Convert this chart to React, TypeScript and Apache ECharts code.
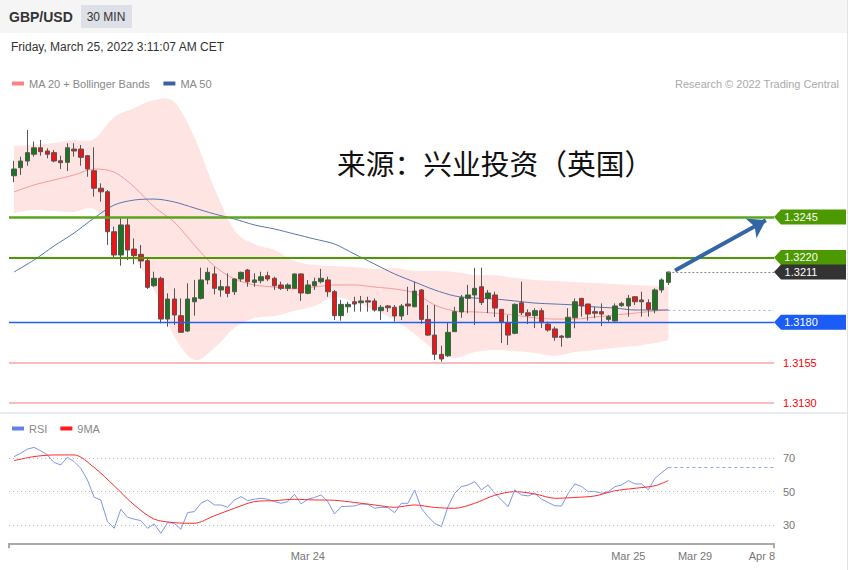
import React, { useEffect, useRef } from "react";
import * as echarts from "echarts";

// ---- data ----
// candles: [open, close, lowest, highest], one per 30-min bar (index 0 .. 98)
const candles: number[][] = [
  [1.32705, 1.32747, 1.32665, 1.32798], [1.32755, 1.32796, 1.3271, 1.32823], [1.32796, 1.32848, 1.32767, 1.32988],
  [1.32838, 1.32878, 1.32823, 1.32916], [1.32878, 1.32854, 1.32829, 1.32926], [1.32858, 1.32838, 1.32813, 1.32875],
  [1.32848, 1.32796, 1.32788, 1.32864], [1.32798, 1.32786, 1.32747, 1.32829], [1.32788, 1.32878, 1.32734, 1.32906],
  [1.3287, 1.32858, 1.32823, 1.32906], [1.3287, 1.32819, 1.32767, 1.32895], [1.32829, 1.32747, 1.32699, 1.32833],
  [1.32736, 1.32628, 1.32576, 1.32881], [1.32628, 1.32606, 1.32545, 1.32658], [1.32606, 1.32359, 1.32277, 1.32617],
  [1.32359, 1.32215, 1.32195, 1.3239], [1.32215, 1.32401, 1.32149, 1.32442], [1.32401, 1.32246, 1.32184, 1.32442],
  [1.32252, 1.32211, 1.32158, 1.32318], [1.32219, 1.32178, 1.32133, 1.32277], [1.3218, 1.32015, 1.32005, 1.32195],
  [1.32025, 1.32071, 1.32017, 1.32112], [1.32071, 1.31819, 1.31793, 1.32081], [1.31819, 1.31943, 1.31772, 1.31978],
  [1.31943, 1.31844, 1.31782, 1.32009], [1.3184, 1.31737, 1.31733, 1.31947], [1.31745, 1.31943, 1.31739, 1.3204],
  [1.31926, 1.31951, 1.3184, 1.32061], [1.31947, 1.32061, 1.3194, 1.32137], [1.32061, 1.32108, 1.32034, 1.32137],
  [1.32098, 1.32009, 1.31972, 1.32143], [1.31999, 1.32019, 1.31957, 1.32061], [1.32019, 1.31978, 1.31954, 1.32102],
  [1.31988, 1.32067, 1.31968, 1.32071], [1.32067, 1.32108, 1.3205, 1.32112], [1.32122, 1.3205, 1.32019, 1.32129],
  [1.32046, 1.32061, 1.32019, 1.32102], [1.32056, 1.32081, 1.3204, 1.32112], [1.32087, 1.32067, 1.32054, 1.32112],
  [1.32071, 1.32025, 1.31999, 1.32081], [1.3203, 1.32009, 1.31999, 1.3205], [1.32009, 1.3203, 1.31992, 1.3204],
  [1.32009, 1.32098, 1.32005, 1.32102], [1.32098, 1.3198, 1.31931, 1.32102], [1.31978, 1.3203, 1.31972, 1.32061],
  [1.32025, 1.3205, 1.31999, 1.32075], [1.3205, 1.32071, 1.3204, 1.32129], [1.32061, 1.31988, 1.31957, 1.32081],
  [1.31988, 1.3184, 1.31813, 1.31999], [1.3184, 1.3191, 1.31809, 1.31937], [1.31895, 1.3191, 1.31858, 1.31926],
  [1.31926, 1.31912, 1.31865, 1.31957], [1.3192, 1.31931, 1.31865, 1.31962], [1.31932, 1.31924, 1.31865, 1.31957],
  [1.31931, 1.31875, 1.31865, 1.31947], [1.31871, 1.31892, 1.31813, 1.31906], [1.319, 1.31889, 1.31863, 1.31906],
  [1.31892, 1.31838, 1.31803, 1.31906], [1.31838, 1.319, 1.31813, 1.31912], [1.31912, 1.319, 1.31844, 1.32019],
  [1.31895, 1.31992, 1.31892, 1.3205], [1.31999, 1.31817, 1.3179, 1.32005], [1.31817, 1.3172, 1.31714, 1.31906],
  [1.3172, 1.31601, 1.31566, 1.31906], [1.31601, 1.31572, 1.31555, 1.31654], [1.31592, 1.31737, 1.31584, 1.31795],
  [1.31741, 1.31865, 1.31739, 1.31895], [1.31863, 1.31951, 1.31827, 1.31968], [1.31947, 1.31968, 1.31855, 1.3203],
  [1.31968, 1.32009, 1.31782, 1.32135], [1.32019, 1.31921, 1.31906, 1.32137], [1.31947, 1.3198, 1.31856, 1.31999],
  [1.31968, 1.31887, 1.31832, 1.31988], [1.31879, 1.31803, 1.31671, 1.31881], [1.31797, 1.3172, 1.31659, 1.31844],
  [1.31731, 1.3191, 1.31725, 1.31916], [1.3192, 1.31858, 1.31844, 1.3205], [1.31858, 1.3184, 1.31788, 1.31879],
  [1.3184, 1.31871, 1.31764, 1.31886], [1.31871, 1.31797, 1.31764, 1.31886], [1.31788, 1.31751, 1.31741, 1.31803],
  [1.31758, 1.31706, 1.31685, 1.31772], [1.31714, 1.31706, 1.31648, 1.3172], [1.31706, 1.3183, 1.317, 1.31886],
  [1.31827, 1.31926, 1.31762, 1.31947], [1.31947, 1.319, 1.31834, 1.3195], [1.31912, 1.3185, 1.31809, 1.31914],
  [1.31865, 1.31855, 1.31824, 1.31895], [1.31865, 1.3185, 1.31776, 1.31916], [1.31817, 1.31834, 1.31803, 1.31844],
  [1.31807, 1.319, 1.31803, 1.31916], [1.31902, 1.31916, 1.31895, 1.31926], [1.319, 1.31947, 1.31834, 1.31968],
  [1.31957, 1.31926, 1.31906, 1.31962], [1.31937, 1.31926, 1.31834, 1.31988], [1.3192, 1.31879, 1.31834, 1.31941],
  [1.31875, 1.31999, 1.31855, 1.32009], [1.31999, 1.32061, 1.31982, 1.32071], [1.32046, 1.3211, 1.3203, 1.32112],
];

// bar indices at which the indicator lines were read
const lineIdx = [0, 3, 6, 9, 12, 15, 18, 21, 24, 27, 30, 33, 36, 39, 42, 45, 48, 51, 54, 57, 60, 63, 66, 69, 72, 75, 78, 81, 84, 87, 90, 93, 96, 98];
const bbUpper = [1.32889, 1.32895, 1.32908, 1.32926, 1.32932, 1.33068, 1.33124, 1.33173, 1.33161, 1.32945, 1.32629, 1.3237, 1.32283, 1.32246, 1.32178, 1.32153, 1.32147, 1.32141, 1.32129, 1.32135, 1.32117, 1.32117, 1.3211, 1.32091, 1.32091, 1.32073, 1.32061, 1.32054, 1.32048, 1.32042, 1.32036, 1.3203, 1.32023, 1.32017];
const bbLower = [1.32475, 1.32493, 1.32487, 1.32481, 1.325, 1.32363, 1.32196, 1.31999, 1.31714, 1.31566, 1.3164, 1.31764, 1.31826, 1.31838, 1.31869, 1.319, 1.31955, 1.31924, 1.31875, 1.31813, 1.31727, 1.31628, 1.31578, 1.31615, 1.31628, 1.31621, 1.31609, 1.31591, 1.31615, 1.31628, 1.3164, 1.31652, 1.31671, 1.3169];
const ma20 = [1.32605, 1.32648, 1.32679, 1.3271, 1.32747, 1.32728, 1.32636, 1.32512, 1.32419, 1.32277, 1.32147, 1.32067, 1.3203, 1.32017, 1.32005, 1.32017, 1.3203, 1.3203, 1.32017, 1.32005, 1.3198, 1.31906, 1.31869, 1.31863, 1.31856, 1.31844, 1.31826, 1.31819, 1.31819, 1.31832, 1.31844, 1.31856, 1.31869, 1.31875];
const ma50 = [1.3211, 1.32184, 1.32271, 1.32351, 1.32444, 1.32524, 1.32555, 1.32561, 1.32543, 1.32506, 1.32469, 1.32438, 1.32401, 1.32376, 1.32345, 1.32314, 1.32283, 1.32221, 1.32159, 1.32098, 1.32048, 1.31999, 1.31962, 1.31949, 1.31943, 1.31931, 1.31918, 1.31912, 1.31906, 1.31894, 1.31887, 1.31875, 1.31875, 1.31875];

const rsi = [
  71, 73, 75.5, 76.5, 74.5, 72, 67.5, 66, 70.6, 68,
  64, 57, 46.6, 45, 32, 28, 39.4, 34.6, 33.5, 32.6,
  28, 30.6, 25, 31.4, 31, 27.4, 37.4, 38, 43, 45,
  42, 42, 40.6, 45, 47, 44.6, 45.5, 46, 45.4, 44,
  43, 44, 48.4, 42.6, 45.4, 46.5, 48, 44, 36.6, 41,
  41.2, 41.4, 42.6, 42.4, 40, 40.6, 40.4, 37.4, 43, 43,
  51, 40, 35, 31, 29, 41, 49, 53, 54, 56,
  51, 54, 49, 45, 41, 51, 48, 47.4, 49, 45.5,
  43.5, 41.5, 41.4, 49, 54.6, 53, 50, 50, 49, 50,
  53, 54, 56.6, 54.6, 54.6, 51, 58, 61.4, 64.6,
];
const rsiMa9 = [68.6, 71, 72, 72, 64.5, 53.5, 42, 33.5, 31.4, 31, 35.5, 40, 44, 44.6, 45.4, 45, 44.8, 43.5, 42, 40.6, 42, 40.5, 40, 43, 47.8, 50, 48.6, 46, 46.5, 47.4, 50.5, 52, 53.5, 56.6];

const levelValues = [1.3245, 1.322, 1.318, 1.3155, 1.313];
const arrowFrom = [99, 1.3212];
const arrowTo = [112.6, 1.3243];
const rsiRefs = [30, 50, 70];
const xTickPos = [44, 92, 102, 112];
const xTickLabels = ["Mar 24", "Mar 25", "Mar 29", "Apr 8"];

const X_MIN = -0.749;
const X_MAX = 113.82;
const FONT = "Liberation Sans, Arial, sans-serif";

// smooth SVG path through pixel points (Catmull-Rom -> cubic Bezier)
function smoothPath(pts: number[][], moveFirst: boolean): string {
  let d = (moveFirst ? "M" : "L") + pts[0][0].toFixed(2) + "," + pts[0][1].toFixed(2);
  for (let i = 0; i < pts.length - 1; i++) {
    const p0 = pts[Math.max(i - 1, 0)];
    const p1 = pts[i];
    const p2 = pts[i + 1];
    const p3 = pts[Math.min(i + 2, pts.length - 1)];
    const c1x = p1[0] + (p2[0] - p0[0]) / 6;
    const c1y = p1[1] + (p2[1] - p0[1]) / 6;
    const c2x = p2[0] - (p3[0] - p1[0]) / 6;
    const c2y = p2[1] - (p3[1] - p1[1]) / 6;
    d += "C" + c1x.toFixed(2) + "," + c1y.toFixed(2) + " " + c2x.toFixed(2) + "," + c2y.toFixed(2) + " " + p2[0].toFixed(2) + "," + p2[1].toFixed(2);
  }
  return d;
}

export default function App() {
  const ref = useRef<HTMLDivElement>(null);

  useEffect(() => {
    if (!ref.current) return;
    const chart = echarts.init(ref.current, null, { renderer: "svg" });

    const lastIdx = candles.length - 1;
    const lastClose = candles[lastIdx][1];
    const ma50Last = ma50[ma50.length - 1];
    const rsiLast = rsi[rsi.length - 1];

    const tagLabel = (v: number) => v.toFixed(4);
    const hLine = (v: number, style: any, label?: any) => [
      { coord: [X_MIN, v], lineStyle: style, label: label || { show: false } },
      { coord: [X_MAX, v], lineStyle: style, label: label || { show: false } },
    ];
    const redLabel = (v: number) => ({
      show: true,
      position: "end",
      formatter: tagLabel(v),
      color: "#ff0000",
      fontSize: 11,
      distance: 9,
    });

    const option: any = {
      animation: false,
      textStyle: { fontFamily: FONT },
      grid: [
        { left: 9, top: 95.7, width: 765, height: 315.4 },
        { left: 9, top: 441.6, width: 765, height: 101.7 },
      ],
      xAxis: [
        { type: "value", gridIndex: 0, min: X_MIN, max: X_MAX, show: false },
        {
          type: "value",
          gridIndex: 1,
          min: X_MIN,
          max: X_MAX,
          axisLine: { show: true, lineStyle: { color: "#aaaaaa", width: 2 } },
          axisTick: { show: true, customValues: [X_MIN, X_MAX], length: 5, lineStyle: { color: "#aaaaaa", width: 2 } },
          axisLabel: {
            customValues: xTickPos,
            formatter: (v: number) => {
              const k = xTickPos.indexOf(v);
              return k >= 0 ? xTickLabels[k] : "";
            },
            color: "#777",
            fontSize: 11,
            margin: 7,
          },
          splitLine: { show: false },
        },
      ],
      yAxis: [
        { type: "value", gridIndex: 0, min: 1.3125, max: 1.332, show: false },
        {
          type: "value",
          gridIndex: 1,
          min: 19,
          max: 80,
          position: "right",
          axisLine: { show: false },
          axisTick: { show: false },
          splitLine: { show: false },
          axisLabel: { customValues: rsiRefs, color: "#777", fontSize: 11, margin: 9 },
        },
      ],
      legend: [
        {
          data: ["MA 20 + Bollinger Bands", "MA 50"],
          left: 12,
          top: 78,
          padding: 0,
          icon: "rect",
          itemWidth: 12,
          itemHeight: 4,
          itemGap: 13,
          selectedMode: false,
          textStyle: { color: "#888", fontSize: 11 },
        },
        {
          data: ["RSI", "9MA"],
          left: 12,
          top: 423,
          padding: 0,
          icon: "rect",
          itemWidth: 12,
          itemHeight: 4,
          itemGap: 13,
          selectedMode: false,
          textStyle: { color: "#888", fontSize: 11 },
        },
      ],
      series: [
        {
          name: "bollinger",
          type: "custom",
          xAxisIndex: 0,
          yAxisIndex: 0,
          data: [0],
          silent: true,
          clip: false,
          z: 1,
          renderItem: (_params: any, api: any) => {
            const up = lineIdx.map((x, k) => api.coord([x, bbUpper[k]]));
            const lo = lineIdx.map((x, k) => api.coord([x, bbLower[k]])).reverse();
            const d = smoothPath(up, true) + smoothPath(lo, false) + "Z";
            return {
              type: "path",
              shape: { pathData: d },
              style: { fill: "#ffe4e4" },
            };
          },
        },
        {
          name: "MA 20 + Bollinger Bands",
          type: "line",
          xAxisIndex: 0,
          yAxisIndex: 0,
          data: lineIdx.map((x, k) => [x, ma20[k]]),
          symbol: "none",
          smooth: 0.3,
          color: "#fb8383",
          lineStyle: { width: 1, color: "#f89a9a" },
          z: 2,
        },
        {
          name: "MA 50",
          type: "line",
          xAxisIndex: 0,
          yAxisIndex: 0,
          data: lineIdx.map((x, k) => [x, ma50[k]]),
          symbol: "none",
          smooth: 0.3,
          color: "#3d62a3",
          lineStyle: { width: 1, color: "#5676b0" },
          z: 2,
        },
        {
          name: "GBP/USD",
          type: "candlestick",
          xAxisIndex: 0,
          yAxisIndex: 0,
          data: candles.map((c, i) => [i, c[0], c[1], c[2], c[3]]),
          barWidth: 5,
          itemStyle: {
            color: "#1a761a",
            color0: "#f01414",
            borderColor: "#555",
            borderColor0: "#555",
            borderWidth: 1,
          },
          z: 3,
          markLine: {
            silent: true,
            symbol: "none",
            animation: false,
            label: { show: false },
            data: [
              hLine(levelValues[0], { color: "#5aa51f", width: 2.5, type: "solid" }),
              hLine(levelValues[1], { color: "#4c9900", width: 2, type: "solid" }),
              hLine(levelValues[2], { color: "#2060f0", width: 1.3, type: "solid" }),
              hLine(levelValues[3], { color: "#f7a6a6", width: 1.5, type: "solid" }, redLabel(levelValues[3])),
              hLine(levelValues[4], { color: "#f7a6a6", width: 1.5, type: "solid" }, redLabel(levelValues[4])),
              [
                { coord: [lastIdx, lastClose], lineStyle: { color: "#888", width: 1, type: [2, 2] } },
                { coord: [X_MAX, lastClose], lineStyle: { color: "#888", width: 1, type: [2, 2] } },
              ],
              [
                { coord: [lastIdx, ma50Last], lineStyle: { color: "#9fb2dc", width: 1, type: [2, 3] } },
                { coord: [X_MAX, ma50Last], lineStyle: { color: "#9fb2dc", width: 1, type: [2, 3] } },
              ],
              [
                { coord: arrowFrom, symbol: "none", lineStyle: { color: "#3465a4", width: 4, type: "solid" } },
                { coord: arrowTo, symbol: "arrow", symbolSize: 17, lineStyle: { color: "#3465a4", width: 4, type: "solid" } },
              ],
            ],
          },
          markPoint: {
            silent: true,
            symbol: "path://M0,7.5L7,0L72,0L72,15L7,15Z",
            symbolSize: [72, 15],
            symbolOffset: [36, 0],
            label: { show: true, position: "inside", color: "#fff", fontSize: 11, offset: [-9, 0], formatter: "{c}" },
            data: [
              { coord: [X_MAX, levelValues[0]], value: tagLabel(levelValues[0]), itemStyle: { color: "#4c9900" } },
              { coord: [X_MAX, levelValues[1]], value: tagLabel(levelValues[1]), itemStyle: { color: "#4c9900" } },
              { coord: [X_MAX, lastClose], value: tagLabel(lastClose), itemStyle: { color: "#333333" } },
              { coord: [X_MAX, levelValues[2]], value: tagLabel(levelValues[2]), itemStyle: { color: "#1a5cf5" } },
            ],
          },
        },
        {
          name: "RSI",
          type: "line",
          xAxisIndex: 1,
          yAxisIndex: 1,
          data: rsi.map((v, i) => [i, v]),
          symbol: "none",
          color: "#5f82e6",
          lineStyle: { width: 1, color: "#7c97ea" },
          markLine: {
            silent: true,
            symbol: "none",
            label: { show: false },
            data: [
              ...rsiRefs.map((v) => [
                { coord: [X_MIN, v], lineStyle: { color: "#bbbbbb", width: 1, type: [1, 3] } },
                { coord: [X_MAX, v], lineStyle: { color: "#bbbbbb", width: 1, type: [1, 3] } },
              ]),
              [
                { coord: [lastIdx, rsiLast], lineStyle: { color: "#8ea4e6", width: 1, type: [3, 3] } },
                { coord: [X_MAX, rsiLast], lineStyle: { color: "#8ea4e6", width: 1, type: [3, 3] } },
              ],
            ],
          },
        },
        {
          name: "9MA",
          type: "line",
          xAxisIndex: 1,
          yAxisIndex: 1,
          data: lineIdx.map((x, k) => [x, rsiMa9[k]]),
          symbol: "none",
          smooth: 0.3,
          color: "#ff1a1a",
          lineStyle: { width: 1, color: "#ff2a2a" },
        },
      ],
      graphic: [
        { type: "rect", shape: { x: 0, y: 0, width: 847, height: 33 }, style: { fill: "#f5f5f5" }, z: -10 },
        { type: "rect", shape: { x: 81, y: 5, width: 51, height: 23 }, style: { fill: "#dde0e6" } },
        {
          type: "text",
          x: 9,
          y: 17,
          style: { text: "GBP/USD", font: "bold 14px Liberation Sans", fill: "#333", verticalAlign: "middle", textVerticalAlign: "middle" },
        },
        {
          type: "text",
          x: 106,
          y: 17,
          style: { text: "30 MIN", font: "12px Liberation Sans", fill: "#333", align: "center", textAlign: "center", verticalAlign: "middle", textVerticalAlign: "middle" },
        },
        {
          type: "text",
          x: 11,
          y: 47,
          style: { text: "Friday, March 25, 2022 3:11:07 AM CET", font: "12px Liberation Sans", fill: "#333", verticalAlign: "middle", textVerticalAlign: "middle" },
        },
        {
          type: "text",
          x: 839,
          y: 84,
          style: { text: "Research © 2022 Trading Central", font: "11px Liberation Sans", fill: "#aaa", align: "right", textAlign: "right", verticalAlign: "middle", textVerticalAlign: "middle" },
        },
        {
          type: "text",
          x: 337,
          y: 162,
          style: { text: "来源：兴业投资（英国）", font: '28.75px "Noto Sans CJK SC"', fill: "#111", verticalAlign: "middle", textVerticalAlign: "middle" },
        },
        { type: "rect", shape: { x: 0, y: 412, width: 847, height: 2 }, style: { fill: "#e8ebf0" } },
        { type: "line", shape: { x1: 847.5, y1: 0, x2: 847.5, y2: 570 }, style: { stroke: "#e3e3e3", lineWidth: 1 } },
      ],
    };

    chart.setOption(option);
    return () => chart.dispose();
  }, []);

  return (
    <div
      ref={ref}
      style={{ position: "fixed", left: 0, top: 0, width: 863, height: 570, background: "#fff" }}
    />
  );
}
